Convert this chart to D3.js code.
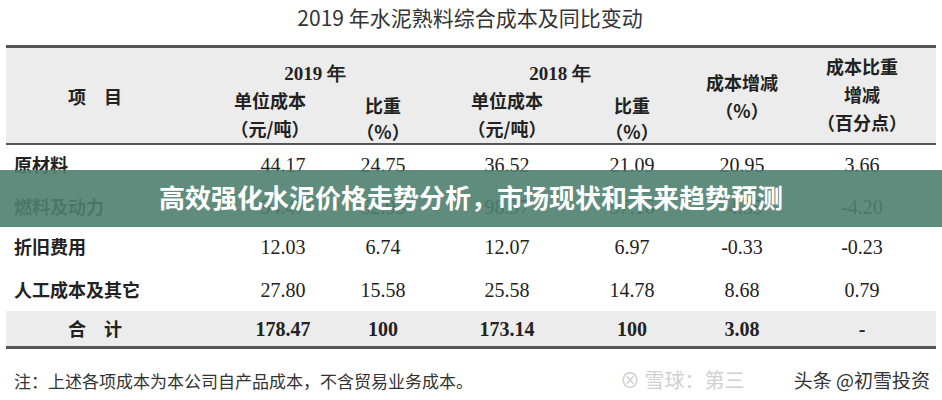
<!DOCTYPE html>
<html><head><meta charset="utf-8">
<script src="https://cdn.jsdelivr.net/npm/d3@7"></script>
<style>body{margin:0;background:#fff}svg{display:block}</style>
</head><body><svg width="942" height="400"></svg>
<script>
// table content
var items = ['原材料', '燃料及动力', '折旧费用', '人工成本及其它', '合　计'];
var cost2019 = ['44.17', '94.47', '12.03', '27.80', '178.47'];
var share2019 = ['24.75', '52.93', '6.74', '15.58', '100'];
var cost2018 = ['36.52', '98.97', '12.07', '25.58', '173.14'];
var share2018 = ['21.09', '57.16', '6.97', '14.78', '100'];
var costChange = ['20.95', '-4.55', '-0.33', '8.68', '3.08'];
var shareChange = ['3.66', '-4.20', '-0.23', '0.79', '-'];

var svg = d3.select('svg');
var cjk = '"Noto Sans CJK SC", sans-serif';
var serif = '"Liberation Serif", "DejaVu Serif", serif';

var colX = d3.scaleOrdinal().domain(d3.range(7)).range([95, 283, 383, 507, 632, 742, 862]);
var rowCenters = [165, 207, 247, 290, 329];

svg.append('text').attr('x', 470).attr('y', 26).attr('text-anchor', 'middle')
  .attr('font-family', cjk).attr('font-size', 21).attr('fill', '#333')
  .text('2019 年水泥熟料综合成本及同比变动');

// header background + total row background
svg.append('rect').attr('x', 6).attr('y', 48).attr('width', 930).attr('height', 96).attr('fill', '#ececec');
svg.append('rect').attr('x', 6).attr('y', 311).attr('width', 930).attr('height', 36).attr('fill', '#ececec');
svg.append('rect').attr('x', 6).attr('y', 45).attr('width', 930).attr('height', 3).attr('fill', '#555');
svg.append('rect').attr('x', 6).attr('y', 143).attr('width', 930).attr('height', 2).attr('fill', '#555');
svg.append('rect').attr('x', 6).attr('y', 346).attr('width', 930).attr('height', 3).attr('fill', '#555');

function htext(x, y, t, size, fam) {
  svg.append('text').attr('x', x).attr('y', y).attr('text-anchor', 'middle')
    .attr('font-family', fam || cjk).attr('font-weight', 'bold').attr('font-size', size || 18)
    .attr('fill', '#222').text(t);
}
htext(95, 104, '项　目');
htext(315, 80, '2019 年', 19, serif);
htext(560, 80, '2018 年', 19, serif);
htext(270, 108, '单位成本'); htext(270, 136, '（元/吨）');
htext(383, 113, '比重'); htext(383, 139, '（%）');
htext(507, 108, '单位成本'); htext(507, 136, '（元/吨）');
htext(632, 113, '比重'); htext(632, 139, '（%）');
htext(742, 90, '成本增减'); htext(742, 118, '（%）');
htext(862, 74, '成本比重'); htext(862, 102, '增减'); htext(862, 130, '（百分点）');

var cols = [cost2019, share2019, cost2018, share2018, costChange, shareChange];
items.forEach(function (name, i) {
  var y = rowCenters[i] + 7;
  var total = i === items.length - 1;
  svg.append('text').attr('x', total ? 95 : 14).attr('y', y)
    .attr('text-anchor', total ? 'middle' : 'start')
    .attr('font-family', cjk).attr('font-weight', 'bold').attr('font-size', 18)
    .attr('fill', '#222').text(name);
  cols.forEach(function (col, j) {
    svg.append('text').attr('x', colX(j + 1)).attr('y', y).attr('text-anchor', 'middle')
      .attr('font-family', serif).attr('font-weight', total ? 'bold' : 'normal')
      .attr('font-size', 20).attr('fill', '#222').text(col[i]);
  });
});

svg.append('text').attr('x', 14).attr('y', 388).attr('font-family', cjk)
  .attr('font-size', 17).attr('fill', '#333').text('注：上述各项成本为本公司自产品成本，不含贸易业务成本。');
svg.append('text').attr('x', 620).attr('y', 388).attr('font-family', cjk)
  .attr('font-size', 20).attr('fill', '#d0d0d0').text('⊗ 雪球：第三');
svg.append('text').attr('x', 930).attr('y', 388).attr('text-anchor', 'end').attr('font-family', cjk)
  .attr('font-size', 19).attr('fill', '#333')
  .text('头条 @初雪投资');

// banner overlay
svg.append('rect').attr('x', 0).attr('y', 170).attr('width', 942).attr('height', 57)
  .attr('fill', '#4f7f6f').attr('opacity', 0.9);
svg.append('text').attr('x', 471).attr('y', 208).attr('text-anchor', 'middle')
  .attr('font-family', cjk).attr('font-weight', 'bold').attr('font-size', 26)
  .attr('fill', '#fff').text('高效强化水泥价格走势分析，市场现状和未来趋势预测');
</script></body></html>
